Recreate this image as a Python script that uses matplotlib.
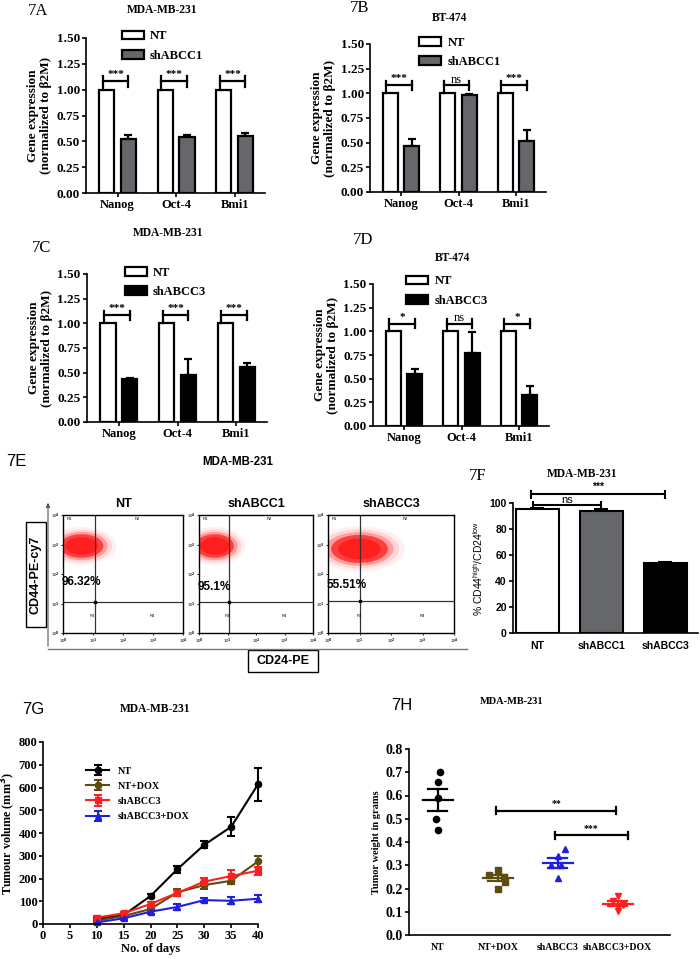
import numpy as np
import matplotlib

matplotlib.use("Agg")

import matplotlib.pyplot as plt
from matplotlib.patches import Ellipse, Rectangle
from matplotlib.ticker import FormatStrFormatter

W, H = 700, 959
SERIF = "Liberation Serif"
SANS = "Liberation Sans"

# ---- 7A-7D: qPCR gene expression ----
genes = ["Nanog", "Oct-4", "Bmi1"]
nt_expr = [1.0, 1.0, 1.0]
abcc1_mda = [0.52, 0.54, 0.555]
abcc1_mda_err = [0.045, 0.02, 0.03]
abcc1_bt = [0.47, 0.98, 0.515]
abcc1_bt_err = [0.065, 0.01, 0.115]
abcc3_mda = [0.435, 0.48, 0.56]
abcc3_mda_err = [0.015, 0.155, 0.035]
abcc3_bt = [0.545, 0.775, 0.325]
abcc3_bt_err = [0.06, 0.22, 0.093]
sig_a = ["***", "***", "***"]
sig_b = ["***", "ns", "***"]
sig_c = ["***", "***", "***"]
sig_d = ["*", "ns", "*"]

# ---- 7E: flow cytometry (log10 units) ----
flow_titles = ["NT", "shABCC1", "shABCC3"]
flow_pct = ["96.32%", "95.1%", "55.51%"]
cloud_cd24 = [0.62, 0.55, 1.0]
cloud_cd44 = [2.95, 2.95, 2.85]
cloud_w = [1.45, 1.35, 1.8]
cloud_h = [0.8, 0.8, 0.95]
gate_cd24 = [1.06, 1.05, 1.03]
gate_cd44 = [1.05, 1.05, 1.1]
pct_y = [1.73, 1.55, 1.63]

# ---- 7F ----
f_groups = ["NT", "shABCC1", "shABCC3"]
f_vals = [95.0, 94.0, 53.5]
f_err = [1.0, 1.0, 1.0]

# ---- 7G: tumour growth ----
days = [10, 15, 20, 25, 30, 35, 40]
vol_nt = [22, 39, 123, 241, 348, 427, 614]
vol_nt_err = [5, 6, 8, 15, 15, 42, 72]
vol_nt_dox = [15, 35, 66, 139, 171, 190, 275]
vol_nt_dox_err = [5, 5, 8, 15, 15, 15, 25]
vol_sh3 = [28, 47, 88, 137, 186, 211, 234]
vol_sh3_err = [8, 6, 10, 12, 15, 25, 18]
vol_sh3_dox = [7, 25, 54, 75, 105, 102, 111]
vol_sh3_dox_err = [5, 6, 12, 12, 8, 15, 15]

# ---- 7H: tumour weight ----
h_groups = ["NT", "NT+DOX", "shABCC3", "shABCC3+DOX"]
w_nt = [0.70, 0.66, 0.59, 0.50, 0.45]
w_nt_dox = [0.28, 0.26, 0.25, 0.23, 0.20]
w_sh3 = [0.37, 0.34, 0.30, 0.30, 0.245]
w_sh3_dox = [0.167, 0.146, 0.13, 0.12, 0.105]
jit_nt = [0.03, 0.0, 0.0, -0.03, 0.0]
jit_nt_dox = [0.0, -0.14, 0.11, 0.12, 0.0]
jit_sh3 = [0.12, 0.0, -0.12, 0.05, 0.0]
jit_sh3_dox = [0.0, -0.08, 0.08, 0.0, 0.0]

GRAY = "#66676b"
OLIVE = "#5e4b10"
RED = "#ff1f1f"
BLUE = "#1f1fe0"

plt.rcParams["font.family"] = SERIF
plt.rcParams["font.weight"] = "bold"
plt.rcParams["axes.labelweight"] = "bold"
plt.rcParams["axes.titleweight"] = "bold"
plt.rcParams["axes.linewidth"] = 1.2

fig = plt.figure(figsize=(7, 9.59), dpi=100)
over = fig.add_axes([0, 0, 1, 1])
over.set_xlim(0, W)
over.set_ylim(H, 0)
over.axis("off")


def px_axes(left, top, right, bottom):
    return fig.add_axes([left / W, 1 - bottom / H, (right - left) / W, (bottom - top) / H])


def label(x, y, s, size=8.3, family=SERIF, weight="bold", **kw):
    over.text(x, y, s, fontsize=size, family=family, fontweight=weight,
              ha="center", va="center", **kw)


def style_axes(ax):
    for side in ("top", "right"):
        ax.spines[side].set_visible(False)
    ax.tick_params(width=1.2, length=3, pad=1.5)


def gene_panel(ax, sh_vals, sh_err, sh_color, sh_name, marks, leg_xy):
    x = np.arange(len(genes))
    off, bw = 0.185, 0.26
    ax.bar(x - off, nt_expr, bw, color="white", edgecolor="black", linewidth=1.6,
           label="NT", zorder=2)
    ax.bar(x + off, sh_vals, bw, color=sh_color, edgecolor="black", linewidth=1.6,
           label=sh_name, zorder=2)
    ax.errorbar(x + off, sh_vals, yerr=[np.zeros(len(sh_vals)), sh_err], fmt="none",
                ecolor="black", elinewidth=1.6, capsize=3, capthick=1.6, zorder=1)
    for xi, m in zip(x, marks):
        x0, x1 = xi - off - 0.07, xi + off
        kw = dict(color="black", lw=1.6, clip_on=False)
        ax.plot([x0, x1], [1.08, 1.08], **kw)
        ax.plot([x0, x0], [1.0, 1.13], **kw)
        ax.plot([x1, x1], [1.03, 1.13], **kw)
        if m == "ns":
            ax.text((x0 + x1) / 2, 1.075, m, ha="center", va="bottom", fontsize=9,
                    fontweight="normal")
        else:
            ax.text((x0 + x1) / 2, 1.1, m, ha="center", va="bottom", fontsize=8)
    ax.set_xlim(-0.54, 2.52)
    ax.set_ylim(0, 1.5)
    ax.set_yticks(np.arange(0, 1.51, 0.25))
    ax.yaxis.set_major_formatter(FormatStrFormatter("%.2f"))
    ax.set_xticks(x)
    style_axes(ax)
    ax.set_xticklabels(genes, fontsize=9)
    ax.tick_params(axis="y", labelsize=9.5)
    ax.set_ylabel("Gene expression\n(normalized to β2M)", fontsize=9.5, linespacing=1.15,
                  labelpad=3)
    ax.legend(loc="upper left", bbox_to_anchor=leg_xy, frameon=False, fontsize=9,
              handlelength=1.75, handleheight=0.7, labelspacing=0.6, handletextpad=0.5,
              borderpad=0, borderaxespad=0)


axA = px_axes(86, 38, 265, 193)
gene_panel(axA, abcc1_mda, abcc1_mda_err, GRAY, "shABCC1", sig_a, (0.2, 1.05))
axB = px_axes(370, 44, 546, 192)
gene_panel(axB, abcc1_bt, abcc1_bt_err, GRAY, "shABCC1", sig_b, (0.28, 1.05))
axC = px_axes(87, 274, 267, 422)
gene_panel(axC, abcc3_mda, abcc3_mda_err, "black", "shABCC3", sig_c, (0.21, 1.05))
axD = px_axes(373, 284, 549, 426)
gene_panel(axD, abcc3_bt, abcc3_bt_err, "black", "shABCC3", sig_d, (0.19, 1.06))

label(38, 11, "7A", size=12, weight="normal")
label(162, 10, "MDA-MB-231")
label(360, 8, "7B", size=12, weight="normal")
label(450, 18, "BT-474")
label(168, 233, "MDA-MB-231")
label(42, 248, "7C", size=12, weight="normal")
label(363, 240, "7D", size=12, weight="normal")
label(453, 258, "BT-474")

# ---- 7E ----
flow_boxes = [(63, 183), (199, 313), (328, 454)]
r_pos = [((0.12, 3.86), "R1"), ((2.38, 3.86), "R2"), ((0.9, 0.56), "R3"), ((2.9, 0.56), "R4")]
for i, (l, r) in enumerate(flow_boxes):
    ax = px_axes(l, 515, r, 633)
    ax.set_xlim(0, 4)
    ax.set_ylim(0, 4)
    centre = (cloud_cd24[i], cloud_cd44[i])
    for scale, alpha in [(1.6, 0.07), (1.4, 0.12), (1.2, 0.3), (1.0, 0.75), (0.75, 1.0)]:
        ax.add_patch(Ellipse(centre, cloud_w[i] * scale, cloud_h[i] * scale,
                             facecolor=RED, edgecolor="none", alpha=alpha, zorder=1))
    ax.axvline(gate_cd24[i], color="#333333", lw=0.9, zorder=2)
    ax.axhline(gate_cd44[i], color="#333333", lw=0.9, zorder=2)
    ax.plot(gate_cd24[i], gate_cd44[i], "s", color="black", ms=2, zorder=3)
    for (rx, ry), t in r_pos:
        ax.text(rx, ry, t, fontsize=3, family=SANS, fontweight="normal", va="center")
    ax.text(-0.05, pct_y[i], flow_pct[i], fontsize=8.5, family=SANS, va="center", zorder=4)
    ax.set_xticks(range(5))
    ax.set_yticks(range(5))
    tl = [f"10$^{k}$" for k in range(5)]
    ax.set_xticklabels(tl, fontsize=3, family=SANS, fontweight="normal")
    ax.set_yticklabels(tl, fontsize=3, family=SANS, fontweight="normal")
    ax.tick_params(length=1.5, width=0.6, pad=1)
    for s in ax.spines.values():
        s.set_linewidth(1.0)
    ax.set_title(flow_titles[i], fontsize=9, family=SANS, pad=6)

over.annotate("", xy=(48, 500), xytext=(48, 649),
              arrowprops=dict(arrowstyle="-|>", lw=0.8, color="#555555", mutation_scale=6))
over.plot([48, 467], [649, 649], color="#777777", lw=1.0)
over.add_patch(Rectangle((26, 522), 20, 105, fill=False, lw=1.0, ec="black"))
label(36, 575, "CD44-PE-cy7", size=9, family=SANS, rotation=90)
over.add_patch(Rectangle((248, 650), 70, 22, fill=False, lw=1.0, ec="black"))
label(283, 661, "CD24-PE", size=9, family=SANS)
label(16, 462, "7E", size=12, family=SANS, weight="normal")
label(238, 462, "MDA-MB-231", family=SANS)

# ---- 7F ----
axF = px_axes(513, 503, 698, 633)
xf = np.arange(len(f_groups))
axF.bar(xf, f_vals, 0.67, color=["white", GRAY, "black"], edgecolor="black",
        linewidth=1.5, zorder=2)
axF.errorbar(xf, f_vals, yerr=[np.zeros(3), f_err], fmt="none", ecolor="black",
             elinewidth=1.5, capsize=5, capthick=1.5, zorder=1)
kw = dict(color="black", lw=1.5, clip_on=False)
axF.plot([-0.07, 0.99], [98.7, 98.7], **kw)
axF.plot([-0.07, -0.07], [96, 101], **kw)
axF.plot([0.99, 0.99], [96, 101], **kw)
axF.text(0.46, 98.7, "ns", ha="center", va="bottom", fontsize=8, family=SANS,
         fontweight="normal")
axF.plot([-0.1, 2.0], [106.7, 106.7], **kw)
axF.plot([-0.1, -0.1], [103.6, 109.2], **kw)
axF.plot([2.0, 2.0], [103.6, 109.2], **kw)
axF.text(0.95, 108.5, "***", ha="center", va="bottom", fontsize=7.5, family=SANS)
axF.set_xlim(-0.38, 2.51)
axF.set_ylim(0, 100)
axF.set_yticks(range(0, 101, 20))
axF.set_xticks(xf)
style_axes(axF)
axF.set_xticklabels(f_groups, fontsize=7.5, family=SANS)
for t in axF.get_yticklabels():
    t.set_family(SANS)
    t.set_fontsize(7.5)
axF.tick_params(axis="x", length=0, pad=6)
axF.set_ylabel(r"% CD44$^{\mathregular{high}}$/CD24$^{\mathregular{low}}$", fontsize=7.5,
               family=SANS, fontweight="normal", labelpad=3)
label(478, 476, "7F", size=12, weight="normal")
label(582, 474, "MDA-MB-231")

# ---- 7G ----
axG = px_axes(43, 742, 258, 924)
series = [
    (vol_nt, vol_nt_err, "black", "o", "NT"),
    (vol_nt_dox, vol_nt_dox_err, OLIVE, "o", "NT+DOX"),
    (vol_sh3, vol_sh3_err, RED, "s", "shABCC3"),
    (vol_sh3_dox, vol_sh3_dox_err, BLUE, "^", "shABCC3+DOX"),
]
for vals, err, col, mk, name in series:
    axG.errorbar(days, vals, yerr=err, fmt="-" + mk, color=col, ms=4.5, lw=1.5,
                 capsize=3, elinewidth=1.5, capthick=1.5, label=name, clip_on=False)
axG.set_xlim(0, 40)
axG.set_ylim(0, 800)
axG.set_xticks(range(0, 41, 5))
axG.set_yticks(range(0, 801, 100))
style_axes(axG)
axG.tick_params(labelsize=9, pad=1)
axG.set_ylabel(r"Tumour volume (mm$^\mathbf{3}$)", fontsize=8.7)
axG.yaxis.set_label_coords(-0.118, 0.5)
axG.set_xlabel("No. of days", fontsize=9, labelpad=1)
axG.legend(loc="upper left", bbox_to_anchor=(0.2, 0.865), frameon=False, fontsize=7.3,
           handlelength=2.3, labelspacing=0.6, borderpad=0, borderaxespad=0)
label(33, 709, "7G", size=12, family=SANS, weight="normal")
label(155, 709, "MDA-MB-231")

# ---- 7H ----
axH = px_axes(409, 749, 670, 935)
groups_h = [
    (w_nt, jit_nt, "black", "o"),
    (w_nt_dox, jit_nt_dox, OLIVE, "s"),
    (w_sh3, jit_sh3, BLUE, "^"),
    (w_sh3_dox, jit_sh3_dox, RED, "v"),
]
for gi, (vals, jit, col, mk) in enumerate(groups_h):
    vals = np.array(vals)
    axH.plot(gi + np.array(jit), vals, mk, color=col, ms=4.5, linestyle="none")
    mean = vals.mean()
    sem = vals.std(ddof=1) / np.sqrt(len(vals))
    axH.plot([gi - 0.25, gi + 0.25], [mean, mean], color=col, lw=1.6)
    axH.plot([gi - 0.16, gi + 0.16], [mean + sem, mean + sem], color=col, lw=1.6)
    axH.plot([gi - 0.16, gi + 0.16], [mean - sem, mean - sem], color=col, lw=1.6)
    axH.plot([gi, gi], [mean - sem, mean + sem], color=col, lw=1.6)
kw = dict(color="black", lw=1.6)
axH.plot([0.97, 2.97], [0.535, 0.535], **kw)
axH.plot([0.97, 0.97], [0.52, 0.55], **kw)
axH.plot([2.97, 2.97], [0.52, 0.55], **kw)
axH.text(1.97, 0.548, "**", ha="center", va="bottom", fontsize=7)
axH.plot([1.95, 3.17], [0.428, 0.428], **kw)
axH.plot([1.95, 1.95], [0.413, 0.443], **kw)
axH.plot([3.17, 3.17], [0.413, 0.443], **kw)
axH.text(2.56, 0.44, "***", ha="center", va="bottom", fontsize=7)
axH.set_xlim(-0.48, 3.87)
axH.set_ylim(0, 0.8)
axH.set_yticks(np.arange(0, 0.81, 0.1))
axH.yaxis.set_major_formatter(FormatStrFormatter("%.1f"))
axH.set_xticks(range(4))
style_axes(axH)
axH.set_xticklabels(h_groups, fontsize=7)
axH.tick_params(axis="y", labelsize=10)
axH.tick_params(axis="x", length=0, pad=6)
axH.set_ylabel("Tumor weight in grams", fontsize=7.5, labelpad=3)
label(402, 705, "7H", size=12, family=SANS, weight="normal")
label(512, 702, "MDA-MB-231", size=7.5)

fig.savefig("out.png", dpi=100)
